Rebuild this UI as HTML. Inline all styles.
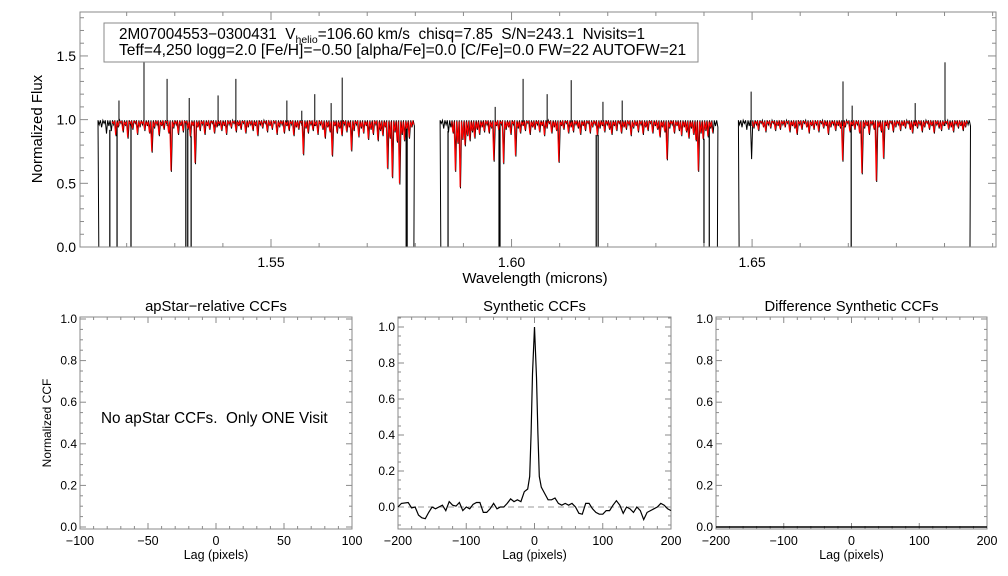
<!DOCTYPE html>
<html><head><meta charset="utf-8"><style>
body{margin:0;background:#fff}
svg{display:block;font-family:"Liberation Sans",sans-serif}
.pre{white-space:pre}
</style></head><body>
<svg id="s" width="1008" height="576" viewBox="0 0 1008 576" xmlns="http://www.w3.org/2000/svg"></svg>
<script>
// ---- spectrum data (flux x100, sampled every 0.0005 micron) ----
const chipStart = [1.5142, 1.5853, 1.6473];
const chipStep = 0.0005;
const redRange = [[6, 131], [5, 113], [6, 95]];
const chip1Flux = [97,95,98,90,96,92,97,88,95,98,91,96,86,97,93,98,89,95,97,92,96,90,75,94,97,88,96,93,98,90,60,94,97,89,96,91,98,93,87,96,66,95,92,97,89,96,93,98,90,95,97,92,96,89,97,94,98,91,96,93,98,90,95,97,92,96,88,97,94,98,91,96,93,98,89,95,97,90,96,92,97,88,95,93,98,73,94,90,97,92,96,89,97,93,86,95,91,72,96,90,94,88,97,91,95,76,92,97,87,94,90,96,85,93,89,97,84,92,88,95,62,86,55,91,83,50,89,84,93,86,95,96];
const chip2Flux = [98,94,97,91,95,90,60,82,47,85,80,88,84,91,86,93,89,95,91,97,90,94,68,96,92,97,66,93,95,89,97,72,94,90,96,92,98,89,95,93,97,91,96,88,94,98,90,95,92,67,96,93,98,90,95,91,97,94,89,96,92,98,90,95,97,88,94,96,91,97,93,89,96,92,98,90,95,93,97,88,94,96,91,97,89,95,92,98,90,96,93,87,95,91,69,94,97,90,96,92,88,95,91,86,94,89,84,60,90,85,92,87,94,90,96,95];
const chip3Flux = [97,95,98,93,96,70,94,97,92,98,95,91,97,94,98,92,96,93,97,95,98,91,96,94,89,97,93,98,95,90,96,93,97,91,98,94,96,89,95,97,92,96,94,68,95,98,91,96,93,97,90,58,94,96,89,97,93,52,95,91,70,96,93,98,91,95,97,92,96,94,98,93,90,96,94,97,91,95,98,93,96,90,97,94,92,96,98,93,95,91,97,94,96,92,95,97,96];
const continuum = 0.985;
const telluricWl = [1.5165,1.5180,1.5209,1.5323,1.5327,1.5334,1.5781,1.5783,1.5868,1.5974,1.5976,1.6176,1.6180,1.6400,1.6411,1.6706];
const spikeWl = [1.5236,1.5184,1.5284,1.5330,1.5390,1.5427,1.5533,1.5564,1.5591,1.5625,1.5648,1.5966,1.6024,1.6074,1.6124,1.6190,1.6230,1.6498,1.6689,1.6708,1.6839,1.6901];
const spikeFlux = [1.50,1.15,1.32,1.17,1.19,1.32,1.15,1.07,1.20,1.13,1.33,1.10,1.32,1.20,1.31,1.14,1.15,1.22,1.30,1.11,1.13,1.45];
const specXTicks = [1.55, 1.60, 1.65];
const specYTicks = [0.0, 0.5, 1.0, 1.5];
// ---- CCF data ----
const ccfLag = [-200,-195,-185,-180,-175,-170,-165,-160,-155,-150,-145,-140,-135,-130,-125,-120,-115,-110,-105,-100,-95,-90,-85,-80,-75,-70,-65,-60,-55,-50,-45,-40,-35,-30,-25,-20,-15,-10,-7,-5,-3,0,3,5,7,10,15,20,25,30,35,40,45,50,55,60,65,70,75,80,85,90,95,100,105,110,115,120,125,130,135,140,145,150,155,160,165,170,175,180,185,190,195,200];
const ccfValue = [0.0,0.02,0.025,-0.005,0.0,-0.045,-0.06,-0.065,-0.03,0.0,-0.01,0.0,0.01,-0.02,0.03,0.01,0.005,0.025,-0.02,0.0,-0.01,0.015,0.025,0.025,-0.03,-0.03,-0.01,0.02,-0.01,0.0,0.0,0.02,0.045,0.03,0.04,0.03,0.085,0.10,0.17,0.41,0.74,1.0,0.72,0.41,0.17,0.11,0.075,0.04,0.04,0.05,0.02,0.01,0.02,0.01,0.02,0.0,-0.035,-0.04,0.02,0.02,-0.01,-0.03,-0.04,-0.04,-0.02,-0.02,0.01,0.035,0.01,-0.035,0.0,-0.01,-0.03,0.0,-0.02,-0.07,-0.03,-0.02,-0.01,0.0,0.02,0.01,-0.01,-0.02];
const diffLag = [-200, 200];
const diffValue = [0.0, 0.0];
const ccfYTicks = [0.0,0.2,0.4,0.6,0.8,1.0];

const svg = document.getElementById('s');
const NS = 'http://www.w3.org/2000/svg';
function mk(tag, attrs, parent) {
  const e = document.createElementNS(NS, tag);
  for (const k in attrs) e.setAttribute(k, attrs[k]);
  (parent || svg).appendChild(e);
  return e;
}
const AX = '#8a8a8a';

// ---------- top spectrum panel ----------
const P = {x0: 80, x1: 996, y0: 12, y1: 247, wmin: 1.5103, wmax: 1.7007, fmin: 0, fmax: 1.845};
const sx = w => P.x0 + (w - P.wmin) / (P.wmax - P.wmin) * (P.x1 - P.x0);
const sy = f => P.y1 - (f - P.fmin) / (P.fmax - P.fmin) * (P.y1 - P.y0);
const gTop = mk('g', {});


const chips = [chip1Flux, chip2Flux, chip3Flux];
function fluxAt(wl) {
  for (let c = 0; c < 3; c++) {
    const i = Math.round((wl - chipStart[c]) / chipStep);
    if (i >= 0 && i < chips[c].length) return chips[c][i] / 100;
  }
  return 0.97;
}
// comb path: each sample is an absorption dip, continuum between samples
function combPath(arr, c, i0, i1, shift, cont, off) {
  let d = '';
  for (let i = i0; i <= i1; i++) {
    const w = chipStart[c] + i * chipStep + shift;
    d += (d ? ' L' : 'M') + sx(w - chipStep * 0.5).toFixed(1) + ' ' + sy(cont).toFixed(1);
    d += ' L' + sx(w).toFixed(1) + ' ' + sy(arr[i] / 100 + off).toFixed(1);
  }
  return d;
}
// black observed spectrum
chips.forEach((arr, c) => {
  let d = 'M' + sx(chipStart[c]).toFixed(1) + ' ' + sy(0);
  d += ' L' + combPath(arr, c, 0, arr.length - 1, 0.0001, 0.995, -0.01).slice(1);
  d += ' L' + sx(chipStart[c] + (arr.length - 1) * chipStep).toFixed(1) + ' ' + sy(0);
  const p = mk('path', {d: d, fill: 'none', stroke: '#000', 'stroke-width': 1}, gTop);
  
  
});
telluricWl.forEach(w => {
  const l = mk('line', {x1: sx(w), x2: sx(w), y1: sy(fluxAt(w)), y2: sy(0), stroke: '#000', 'stroke-width': 1.2}, gTop);
  
  
});
spikeWl.forEach((w, i) => {
  const l = mk('line', {x1: sx(w), x2: sx(w), y1: sy(spikeFlux[i]), y2: sy(0.95), stroke: '#000', 'stroke-width': 1}, gTop);
  
  
});
// red model
chips.forEach((arr, c) => {
  const d = combPath(arr, c, redRange[c][0], redRange[c][1], 0, continuum, 0);
  const p = mk('path', {d: d, fill: 'none', stroke: '#ff0000', 'stroke-width': 1}, gTop);
  
  
});
// axes
mk('rect', {x: P.x0, y: P.y0, width: P.x1 - P.x0, height: P.y1 - P.y0, fill: 'none', stroke: AX, 'stroke-width': 1}, gTop);
for (let k = 0; k * 0.01 + 1.52 <= 1.70 + 1e-9; k++) {
  const w = 1.52 + k * 0.01, x = sx(w);
  const major = specXTicks.some(t => Math.abs(t - w) < 1e-6);
  const L = major ? 8 : 4;
  mk('line', {x1: x, x2: x, y1: P.y1, y2: P.y1 - L, stroke: AX}, gTop);
  mk('line', {x1: x, x2: x, y1: P.y0, y2: P.y0 + L, stroke: AX}, gTop);
}
specXTicks.forEach(t => {
  const e = mk('text', {x: sx(t), y: 267, 'text-anchor': 'middle', 'font-size': 14}, gTop);
  e.textContent = t.toFixed(2);
  
  
});
for (let k = 0; k <= 18; k++) {
  const f = k * 0.1, y = sy(f);
  const major = k % 5 === 0, L = major ? 8 : 4;
  mk('line', {x1: P.x0, x2: P.x0 + L, y1: y, y2: y, stroke: AX}, gTop);
  mk('line', {x1: P.x1, x2: P.x1 - L, y1: y, y2: y, stroke: AX}, gTop);
}
specYTicks.forEach(t => {
  const e = mk('text', {x: 76, y: sy(t) + 5, 'text-anchor': 'end', 'font-size': 14}, gTop);
  e.textContent = t.toFixed(1);
  
  
});

// legend box & labels for top panel
const box = mk('rect', {x: 104, y: 23, width: 594, height: 39, fill: '#fff', stroke: AX});


const t1 = mk('text', {x: 119, y: 39, 'font-size': 15.3, class: 'pre'});


t1.innerHTML = '2M07004553\u22120300431  V<tspan font-size="10.5" dy="4">helio</tspan><tspan dy="-4">=106.60 km/s  chisq=7.85  S/N=243.1  Nvisits=1</tspan>';
const t2 = mk('text', {x: 119, y: 55, 'font-size': 15.6});


t2.textContent = 'Teff=4,250 logg=2.0 [Fe/H]=\u22120.50 [alpha/Fe]=0.0 [C/Fe]=0.0 FW=22 AUTOFW=21';
const yl = mk('text', {x: 0, y: 0, 'font-size': 15, 'text-anchor': 'middle', transform: 'translate(42,129) rotate(-90)'});
yl.textContent = 'Normalized Flux';


const xl = mk('text', {x: 535, y: 283, 'font-size': 15, 'text-anchor': 'middle'});
xl.textContent = 'Wavelength (microns)';



// ---------- CCF panels ----------
function panel(o) {
  const g = mk('g', {});
  
  
  const px = v => o.x0 + (v - o.xmin) / (o.xmax - o.xmin) * (o.x1 - o.x0);
  const py = v => o.yz - v * o.ys;
  mk('rect', {x: o.x0, y: o.y0, width: o.x1 - o.x0, height: o.y1 - o.y0, fill: 'none', stroke: AX}, g);
  for (let v = o.xmin; v <= o.xmax + 1e-9; v += o.xminor) {
    const major = Math.abs(Math.round(v / o.xmajor) * o.xmajor - v) < 1e-6, L = major ? 6 : 3;
    const x = px(v);
    mk('line', {x1: x, x2: x, y1: o.y1, y2: o.y1 - L, stroke: AX}, g);
    mk('line', {x1: x, x2: x, y1: o.y0, y2: o.y0 + L, stroke: AX}, g);
    if (major) {
      const e = mk('text', {x: x, y: 545, 'text-anchor': 'middle', 'font-size': 12.5}, g);
      e.textContent = (v < 0 ? '\u2212' : '') + Math.abs(Math.round(v));
      
      
    }
  }
  for (let k = Math.ceil(o.ymin * 20); k <= Math.floor(o.ymax * 20); k++) {
    const v = k / 20, y = py(v), major = k % 4 === 0, L = major ? 6 : 3;
    mk('line', {x1: o.x0, x2: o.x0 + L, y1: y, y2: y, stroke: AX}, g);
    mk('line', {x1: o.x1, x2: o.x1 - L, y1: y, y2: y, stroke: AX}, g);
  }
  ccfYTicks.forEach(t => {
    const e = mk('text', {x: o.x0 - 3, y: py(t) + 4, 'text-anchor': 'end', 'font-size': 12}, g);
    e.textContent = t.toFixed(1);
    
    
  });
  const ti = mk('text', {x: (o.x0 + o.x1) / 2, y: 311, 'text-anchor': 'middle', 'font-size': 14.8}, g);
  ti.textContent = o.title;
  
  
  const xt = mk('text', {x: (o.x0 + o.x1) / 2, y: 559, 'text-anchor': 'middle', 'font-size': 12.5}, g);
  xt.textContent = 'Lag (pixels)';
  
  
  if (o.lag) {
    let d = '';
    o.lag.forEach((l, i) => { d += (i ? ' L' : 'M') + px(l).toFixed(1) + ' ' + py(o.val[i]).toFixed(1); });
    const p = mk('path', {d: d, fill: 'none', stroke: '#000', 'stroke-width': o.lw || 1.2}, g);
    
    
  }
  return {g: g, sx: px, sy: py};
}
const p1 = panel({name: 'apstar-ccf-panel', title: 'apStar\u2212relative CCFs', x0: 80, x1: 352, y0: 317, y1: 529, xmin: -100, xmax: 100, xmajor: 50, xminor: 10, yz: 527, ys: 208, ymin: -0.005, ymax: 1.005});
const yt = mk('text', {x: 0, y: 0, 'font-size': 12, 'text-anchor': 'middle', transform: 'translate(51,423) rotate(-90)'});
yt.textContent = 'Normalized CCF';


const msg = mk('text', {x: 101, y: 423, 'font-size': 15.3, class: 'pre'}, p1.g);
msg.textContent = 'No apStar CCFs.  Only ONE Visit';



const p2 = panel({name: 'synthetic-ccf-panel', title: 'Synthetic CCFs', x0: 398, x1: 671, y0: 317, y1: 529, xmin: -200, xmax: 200, xmajor: 100, xminor: 20, yz: 507, ys: 180, ymin: -0.12, ymax: 1.05});
const dash = mk('line', {x1: 398, x2: 671, y1: p2.sy(0), y2: p2.sy(0), stroke: '#999', 'stroke-dasharray': '6,4'}, p2.g);


let dd = '';
ccfLag.forEach((l, i) => { dd += (i ? ' L' : 'M') + p2.sx(l).toFixed(1) + ' ' + p2.sy(ccfValue[i]).toFixed(1); });
const cp = mk('path', {d: dd, fill: 'none', stroke: '#000', 'stroke-width': 1.2}, p2.g);



panel({name: 'difference-ccf-panel', title: 'Difference Synthetic CCFs', x0: 716, x1: 987, y0: 317, y1: 529, xmin: -200, xmax: 200, xmajor: 100, xminor: 20, yz: 527, ys: 208, ymin: -0.005, ymax: 1.005, lag: diffLag, val: diffValue, lineName: 'difference-ccf-line', lw: 1.5});
</script>
</body></html>
